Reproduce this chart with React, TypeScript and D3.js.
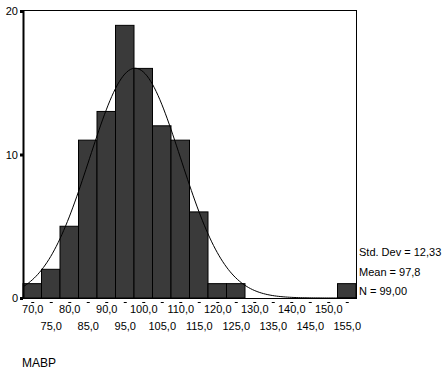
import React from "react";
import * as d3 from "d3";

// bin centres (MABP) and counts
const binCenters = [70, 75, 80, 85, 90, 95, 100, 105, 110, 115, 120, 125, 130, 135, 140, 145, 150, 155];
const counts = [1, 2, 5, 11, 13, 19, 16, 12, 11, 6, 1, 1, 0, 0, 0, 0, 0, 1];
const yTicks = [0, 10, 20];
const statLines = ["Std. Dev = 12,33", "Mean = 97,8", "N = 99,00"];

const mean = 97.8;
const sd = 12.33;
const n = 99;
const binWidth = 5;

const W = 448;
const H = 374;
const margin = { top: 10, right: 92, bottom: 76, left: 23 };

export default function App() {
  const x = d3
    .scaleLinear()
    .domain([binCenters[0] - binWidth / 2, binCenters[binCenters.length - 1] + binWidth / 2])
    .range([margin.left, W - margin.right]);
  const y = d3.scaleLinear().domain([0, 20]).range([H - margin.bottom, margin.top + 1]);

  const fmt = (v: number) => v.toFixed(1).replace(".", ",");

  // normal curve scaled to counts
  const xs = d3.range(x.domain()[0], x.domain()[1] + 0.01, 0.5);
  const curve = d3
    .line<number>()
    .x((v) => x(v))
    .y((v) => y((n * binWidth) / (sd * Math.sqrt(2 * Math.PI)) * Math.exp(-((v - mean) ** 2) / (2 * sd * sd))))
    .curve(d3.curveBasis)(xs);

  const font = "'Liberation Sans', Arial, sans-serif";
  const plotBottom = y(0);

  return (
    <svg width={W} height={H} style={{ position: "absolute", left: 0, top: 0, background: "#fff" }}>
      <g fontFamily={font} fontSize={11} fill="#000">
        {/* bars */}
        {binCenters.map((c, i) =>
          counts[i] > 0 ? (
            <rect
              key={c}
              x={x(c - binWidth / 2)}
              y={y(counts[i])}
              width={x(c + binWidth / 2) - x(c - binWidth / 2)}
              height={plotBottom - y(counts[i])}
              fill="#3a3a3a"
              stroke="#000"
              strokeWidth={1}
            />
          ) : null
        )}
        <path d={curve ?? ""} fill="none" stroke="#000" strokeWidth={1} />
        {/* frame */}
        <rect
          x={margin.left + 0.5}
          y={margin.top + 0.5}
          width={W - margin.right - margin.left}
          height={plotBottom - margin.top}
          fill="none"
          stroke="#000"
          strokeWidth={1}
        />
        <line x1={margin.left + 0.5} x2={margin.left + 0.5} y1={margin.top} y2={plotBottom + 1} stroke="#000" strokeWidth={2} />
        {/* y ticks */}
        {yTicks.map((t) => (
          <g key={t}>
            <rect x={margin.left - 3} y={y(t) - 1} width={3} height={3} fill="#000" />
            <text x={margin.left - 5} y={y(t) + 4} textAnchor="end">
              {t}
            </text>
          </g>
        ))}
        {/* x ticks */}
        {binCenters.map((c, i) => (
          <g key={c}>
            <rect x={x(c) - 1} y={plotBottom + 4} width={3} height={1} fill="#000" />
            <text x={x(c) + 0.5} y={i % 2 === 0 ? plotBottom + 15 : plotBottom + 32} textAnchor="middle">
              {fmt(c)}
            </text>
          </g>
        ))}
        {/* stats */}
        {statLines.map((s, i) => (
          <text key={s} x={W - margin.right + 3} y={y(0) - 42 + i * 19.5}>
            {s}
          </text>
        ))}
        <text x={22} y={H - 7} fontSize={12}>
          MABP
        </text>
      </g>
    </svg>
  );
}
